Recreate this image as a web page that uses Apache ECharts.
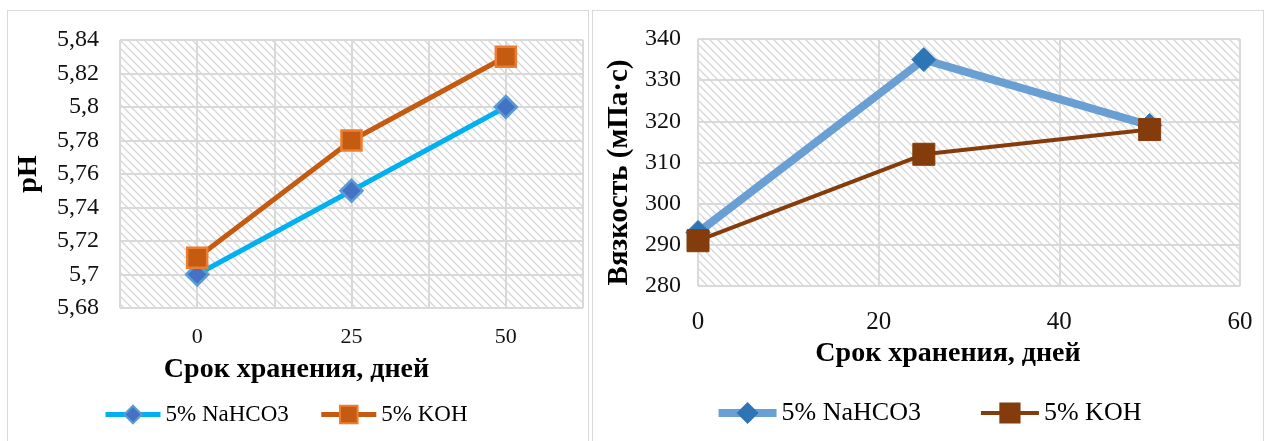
<!DOCTYPE html>
<html><head><meta charset="utf-8">
<script src="https://cdn.jsdelivr.net/npm/echarts@6/dist/echarts.min.js"></script>
<style>
html,body{margin:0;padding:0;background:#fff;width:1266px;height:441px;overflow:hidden;}
.panel{position:absolute;border:1px solid #d9d9d9;box-sizing:border-box;}
#c1{position:absolute;left:0;top:0;width:590px;height:441px;}
#c2{position:absolute;left:590px;top:0;width:676px;height:441px;}
</style></head>
<body>
<div class="panel" style="left:7px;top:10px;width:582px;height:440px;"></div>
<div class="panel" style="left:592px;top:10px;width:672px;height:440px;"></div>
<div id="c1"></div>
<div id="c2"></div>
<script>
// ---- data ----
const days = [0, 25, 50];
const phNaHCO3 = [5.70, 5.75, 5.80];
const phKOH = [5.71, 5.78, 5.83];
const viscDays = [0, 25, 50];
const viscNaHCO3 = [293, 335, 319];
const viscKOH = [291, 312, 318];
const seriesNames = ['5% NaHCO3', '5% KOH'];
const xTitle = 'Срок хранения, дней';
const y1Title = 'pH';
const y2Title = 'Вязкость (мПа·с)';

const FONT = 'Liberation Serif';

function hatch() {
  const c = document.createElement('canvas');
  c.width = 8; c.height = 8;
  const g = c.getContext('2d');
  g.fillStyle = '#ffffff'; g.fillRect(0, 0, 8, 8);
  g.strokeStyle = '#d6d6d6'; g.lineWidth = 1.3;
  g.beginPath();
  g.moveTo(-1, -1); g.lineTo(9, 9);
  g.moveTo(-1, 7); g.lineTo(1, 9);
  g.moveTo(7, -1); g.lineTo(9, 1);
  g.stroke();
  return { image: c, repeat: 'repeat' };
}
const zip = (xs, ys) => xs.map((x, i) => [x, ys[i]]);
const splitStyle = { show: true, lineStyle: { color: '#d9d9d9', width: 2 } };
const legendText = (size) => ({ fontSize: size, fontFamily: FONT, color: '#000', fontWeight: 'normal' });

// ---- chart 1: pH ----
const ch1 = echarts.init(document.getElementById('c1'));
ch1.setOption({
  animation: false,
  textStyle: { fontFamily: FONT },
  grid: { left: 120, right: 7, top: 40, bottom: 133, show: true, borderWidth: 0, backgroundColor: hatch() },
  xAxis: {
    type: 'value', min: -12.5, max: 62.5, interval: 12.5,
    axisLine: { show: false }, axisTick: { show: false },
    splitLine: splitStyle,
    axisLabel: { margin: 18, fontSize: 22, fontFamily: FONT, color: '#111',
      formatter: v => days.includes(v) ? String(v) : '' },
    name: xTitle, nameLocation: 'middle', nameGap: 48,
    nameTextStyle: { fontSize: 28, fontWeight: 'bold', fontFamily: FONT, color: '#000', padding: [0, 110, 0, 0] }
  },
  yAxis: {
    type: 'value', min: 5.68, max: 5.84, interval: 0.02,
    axisLine: { show: false }, axisTick: { show: false },
    splitLine: splitStyle,
    axisLabel: { margin: 21, fontSize: 24, fontFamily: FONT, color: '#111',
      formatter: v => String(parseFloat(v.toFixed(2))).replace('.', ',') },
    name: y1Title, nameLocation: 'middle', nameGap: 77,
    nameTextStyle: { fontSize: 28, fontWeight: 'bold', fontFamily: FONT, color: '#000' }
  },
  legend: {
    top: 398, left: 98, itemGap: 30, itemWidth: 55, itemHeight: 22,
    textStyle: legendText(23),
    lineStyle: { width: 'inherit' },
    data: seriesNames.map(n => ({ name: n, textStyle: legendText(23) }))
  },
  series: [
    { name: seriesNames[0], type: 'line', data: zip(days, phNaHCO3),
      lineStyle: { color: '#00B0F0', width: 5 }, symbol: 'diamond', symbolSize: 22,
      itemStyle: { color: '#4472C4', borderColor: '#5B9BD5', borderWidth: 2.5 } },
    { name: seriesNames[1], type: 'line', data: zip(days, phKOH),
      lineStyle: { color: '#C55A11', width: 5 }, symbol: 'rect', symbolSize: 20,
      itemStyle: { color: '#C55A11', borderColor: '#ED7D31', borderWidth: 2.5 } }
  ]
});

// ---- chart 2: viscosity ----
const ch2 = echarts.init(document.getElementById('c2'));
ch2.setOption({
  animation: false,
  textStyle: { fontFamily: FONT },
  grid: { left: 108, right: 26, top: 39, bottom: 155, show: true, borderWidth: 0, backgroundColor: hatch() },
  xAxis: {
    type: 'value', min: 0, max: 60, interval: 20,
    axisLine: { show: false }, axisTick: { show: false },
    splitLine: splitStyle,
    axisLabel: { margin: 24, fontSize: 25, fontFamily: FONT, color: '#111' },
    name: xTitle, nameLocation: 'middle', nameGap: 51,
    nameTextStyle: { fontSize: 28, fontWeight: 'bold', fontFamily: FONT, color: '#000', padding: [0, 42, 0, 0] }
  },
  yAxis: {
    type: 'value', min: 280, max: 340, interval: 10,
    axisLine: { show: false }, axisTick: { show: false },
    splitLine: splitStyle,
    axisLabel: { margin: 17, fontSize: 24, fontFamily: FONT, color: '#111' },
    name: y2Title, nameLocation: 'middle', nameGap: 62,
    nameTextStyle: { fontSize: 29, fontWeight: 'bold', fontFamily: FONT, color: '#000', padding: [0, 20, 0, 0] }
  },
  legend: {
    top: 395, left: 'center', itemGap: 58, itemWidth: 58, itemHeight: 24,
    textStyle: legendText(26),
    lineStyle: { width: 'inherit' },
    data: seriesNames.map(n => ({ name: n, textStyle: legendText(26) }))
  },
  series: [
    { name: seriesNames[0], type: 'line', data: zip(viscDays, viscNaHCO3),
      lineStyle: { color: '#6A9FD4', width: 8 }, symbol: 'diamond', symbolSize: 24,
      itemStyle: { color: '#2E75B6', borderColor: '#2E75B6', borderWidth: 1 } },
    { name: seriesNames[1], type: 'line', data: zip(viscDays, viscKOH),
      lineStyle: { color: '#843C0C', width: 4 }, symbol: 'rect', symbolSize: 22,
      itemStyle: { color: '#843C0C', borderColor: '#843C0C', borderWidth: 1 } }
  ]
});
</script>
</body></html>
